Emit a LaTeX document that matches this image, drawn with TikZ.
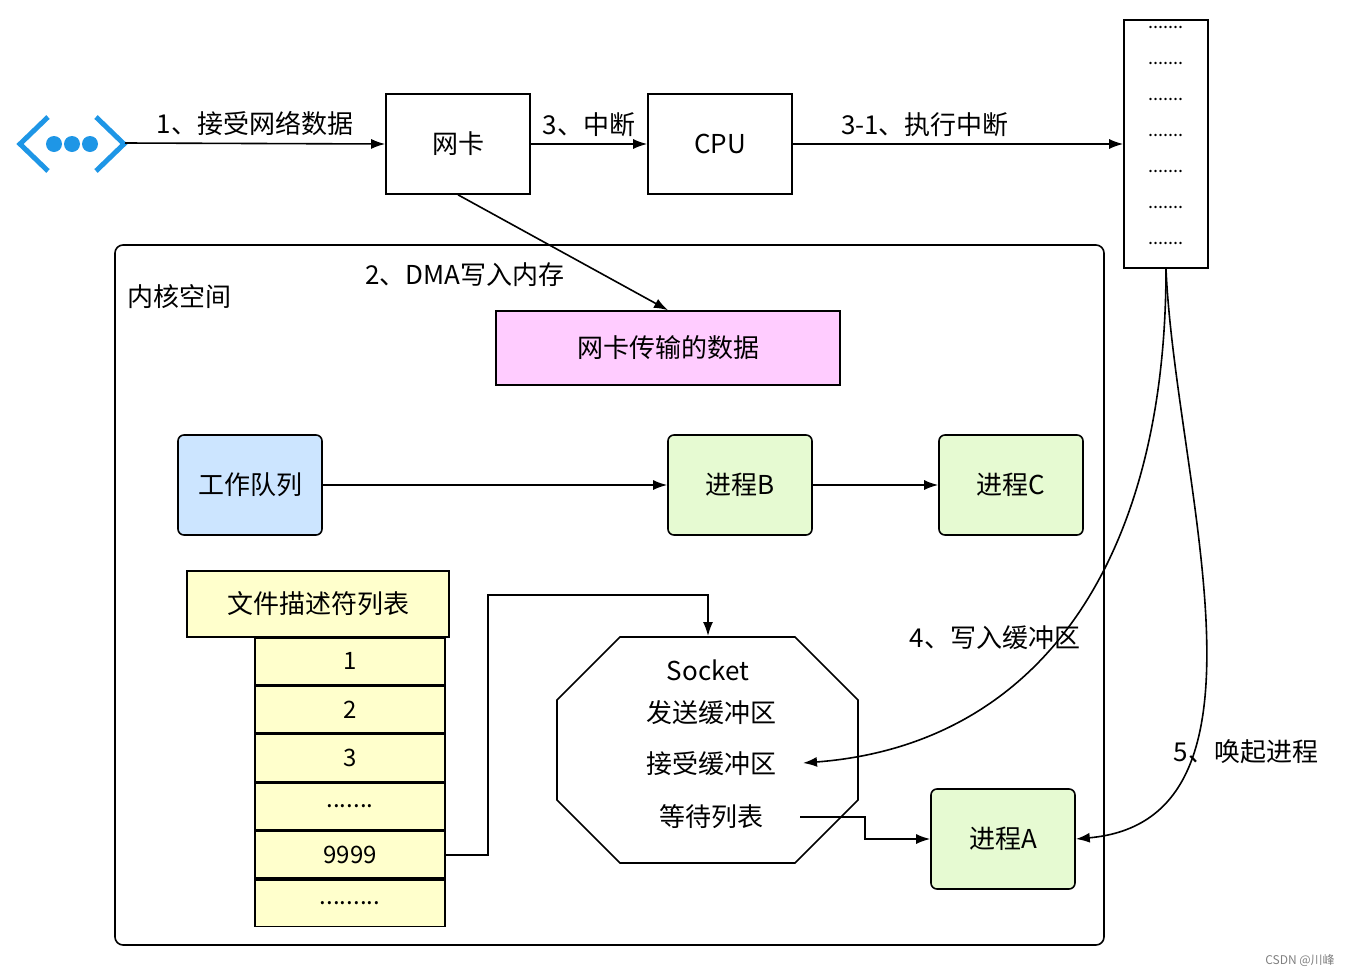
\documentclass[tikz,border=0pt]{standalone}
\usepackage{fontspec}
\setmainfont{Noto Sans CJK SC}
\usetikzlibrary{arrows.meta,positioning}
\definecolor{iconblue}{RGB}{30,150,230}
\definecolor{pinkfill}{RGB}{255,204,255}
\definecolor{bluefill}{RGB}{204,229,255}
\definecolor{greenfill}{RGB}{230,250,210}
\definecolor{yellowfill}{RGB}{255,255,204}
\tikzset{
  box/.style={draw,thick,minimum width=72pt,minimum height=50pt,font=\fontsize{13}{15}\selectfont},
  rbox/.style={box,rounded corners=3pt},
  cell/.style={draw,thick,fill=yellowfill,minimum width=95pt,minimum height=23.4pt,inner sep=0pt,font=\fontsize{12}{14}\selectfont},
  lbl/.style={font=\fontsize{13}{15}\selectfont},
  arr/.style={thick,-{Latex[length=7pt,width=5pt]}}
}
\begin{document}
\begin{tikzpicture}[x=0.5pt,y=-0.5pt]
	\useasboundingbox (0,0) rectangle (1350,975);
	% network icon
	\draw[iconblue,line width=2.5pt] (48,117)--(20,144)--(48,171);
	\draw[iconblue,line width=2.5pt] (96,117)--(124,144)--(96,171);
	\foreach\x in{54,72,90}{\fill[iconblue] (\x,144) circle (8);}
	\coordinate (net) at (125,143);
	% top row
	\node[box] (nic) at (458,144) {网卡};
	\node[box] (cpu) at (720,144) {CPU};
	\node[draw,thick,minimum width=42pt,minimum height=124pt] (vec) at (1166,144) {};
	\foreach\y in{27,63,99,135,171,207,243}{\node[font=\fontsize{9}{9}\selectfont] at (1166,\y) {.......};}
	\draw[arr] (net) -- (nic.west) node[lbl,midway,above] {1、接受网络数据};
	\draw[arr] (nic) -- (cpu) node[lbl,midway,above] {3、中断};
	\draw[arr] (cpu) -- (vec) node[lbl,pos=0.4,above] {3-1、执行中断};
	% kernel space
	\draw[thick,rounded corners=4pt] (115,245) rectangle (1104,945);
	\node[lbl,anchor=west] at (120,297) {内核空间};
	\node[box,fill=pinkfill,minimum width=172pt,minimum height=37pt] (buf) at (668,348) {网卡传输的数据};
	\draw[arr] (nic.south) -- (buf.north);
	\node[lbl] at (465,275) {2、DMA写入内存};
	\node[rbox,fill=bluefill] (wq) at (250,485) {工作队列};
	\node[rbox,fill=greenfill] (pb) at (740,485) {进程B};
	\node[rbox,fill=greenfill] (pc) at (1011,485) {进程C};
	\draw[arr] (wq) -- (pb);
	\draw[arr] (pb) -- (pc);
	% fd table
	\node[cell,minimum width=131pt,minimum height=33pt,font=\fontsize{13}{15}\selectfont] (fd) at (318,604) {文件描述符列表};
	\node[cell,anchor=north] (c1) at (350,637) {1};
	\node[cell,below=0pt of c1] (c2) {2};
	\node[cell,below=0pt of c2] (c3) {3};
	\node[cell,below=0pt of c3] (c4) {.......};
	\node[cell,below=0pt of c4] (c5) {9999};
	\node[cell,below=0pt of c5] (c6) {.........};
	% socket
	\draw[thick] (557,700)--(620,637)--(795,637)--(858,700)--(858,800)--(795,863)--(620,863)--(557,800)--cycle;
	\node[lbl] (sock) at (708,670) {Socket};
	\node[lbl] (send) at (711,713) {发送缓冲区};
	\node[lbl] (recv) at (711,764) {接受缓冲区};
	\node[lbl] (wait) at (711,817) {等待列表};
	\coordinate (stop) at (708,636);
	\draw[arr] (c5.east) -| (488,595) -- (708,595) -- (stop);
	\node[rbox,fill=greenfill] (pa) at (1003,839) {进程A};
	\coordinate (wend) at (800,817);
	\draw[arr] (wend) -- (865,817) -- (865,839) -- (pa.west);
	% curves
	\coordinate (recvend) at (803,763);
	\draw[arr] (vec.south) .. controls (1166,560) and (1040,745) .. (recvend);
	\node[lbl] at (995,638) {4、写入缓冲区};
	\draw[arr] (vec.south) .. controls (1175,480) and (1290,820) .. (pa.east);
	\node[lbl] at (1246,752) {5、唤起进程};
	\node[gray,font=\fontsize{6}{7}\selectfont] at (1300,960) {CSDN @川峰};
\end{tikzpicture}
\end{document}
